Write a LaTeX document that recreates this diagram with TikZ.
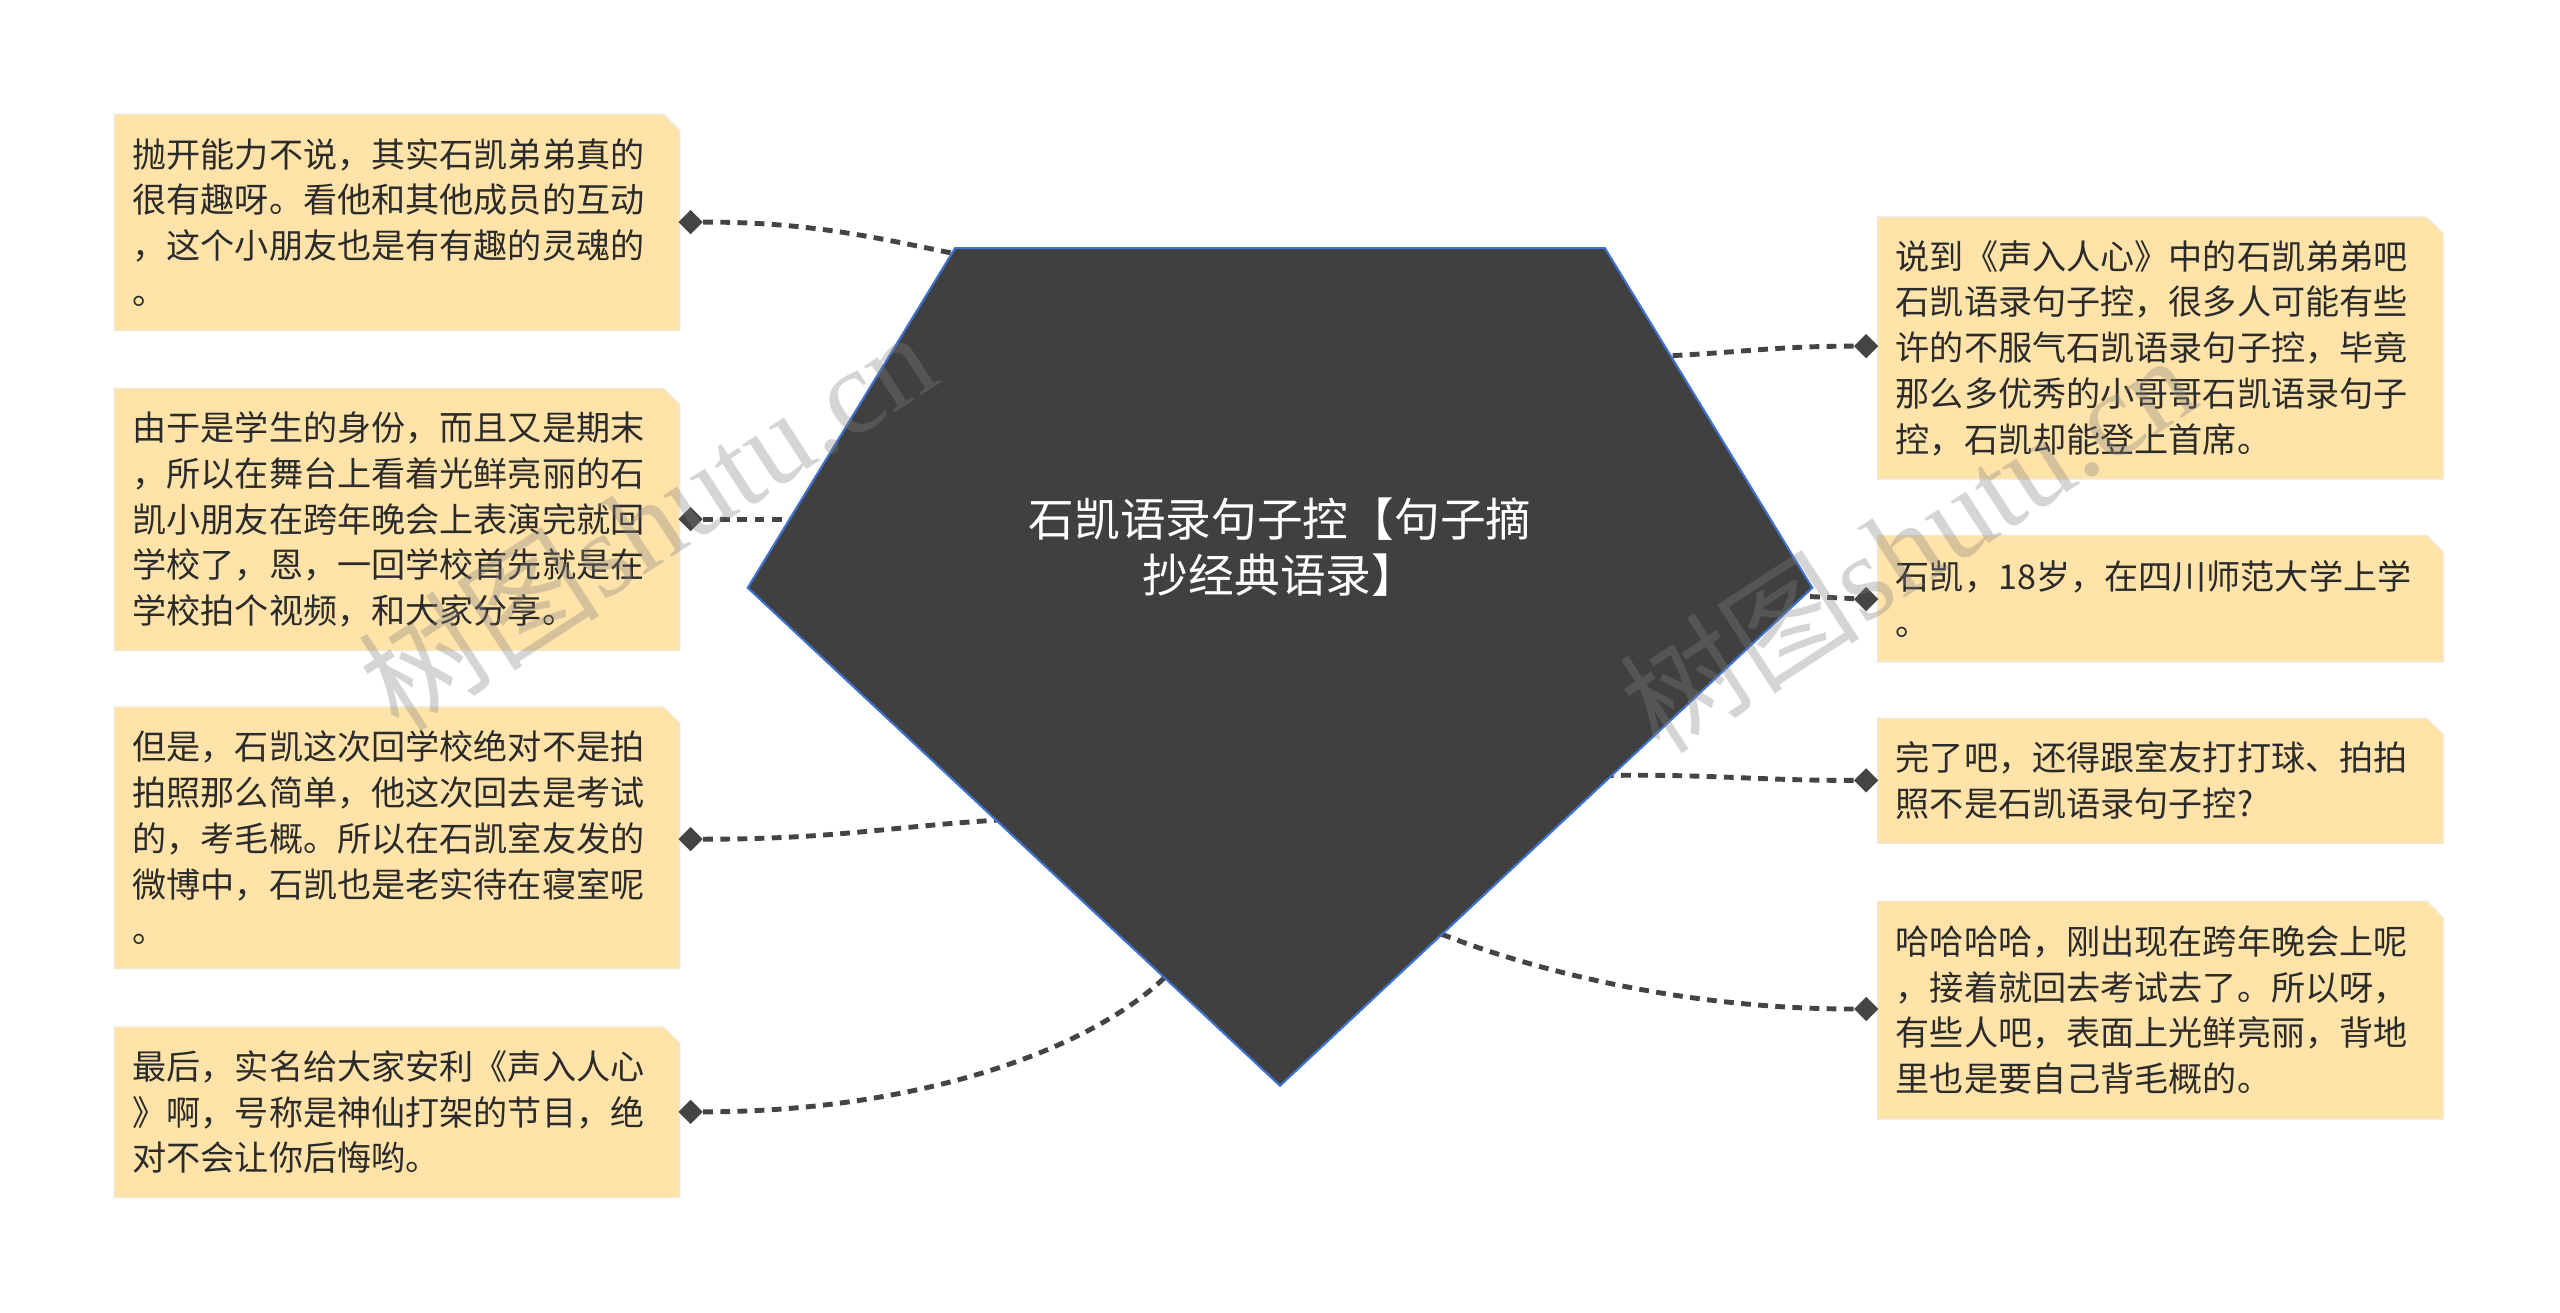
\documentclass[tikz,border=0pt]{standalone}
\usepackage{fontspec}
\setmainfont{Noto Sans CJK SC}
\newfontfamily\wmcjk{Noto Sans CJK SC}
\newfontfamily\wmlat{Liberation Serif}
\usetikzlibrary{shapes.geometric,backgrounds}
\definecolor{leaffill}{HTML}{FFE3A8}
\definecolor{leafedge}{HTML}{F1E9D8}
\definecolor{leaftext}{HTML}{2B2B2B}
\definecolor{conncol}{HTML}{444444}
\definecolor{centfill}{HTML}{404040}
\definecolor{centedge}{HTML}{3F72CF}
\tikzset{
  leaf/.style={anchor=north west, inner sep=0pt, text width=324pt, align=left,
    minimum width=346pt, text=leaftext, font=\fontsize{20.9pt}{28pt}\selectfont},
  dia/.style={diamond, fill=conncol, inner sep=0pt, minimum width=15pt, minimum height=15pt},
  connector/.style={draw=conncol, line width=3pt, dash pattern=on 6pt off 4.5pt},
  wm/.style={text=black!50, opacity=0.33, font=\fontsize{74pt}{78pt}\selectfont},
}
\begin{document}
\begin{tikzpicture}[x=1pt,y=-1pt]
\useasboundingbox (0,0) rectangle (1568,804);
% leaf boxes
\node[leaf, minimum height=132pt] (b1) at (70,70) {抛开能力不说，其实石凯弟弟真的\\很有趣呀。看他和其他成员的互动\\，这个小朋友也是有有趣的灵魂的\\。};
\node[leaf, minimum height=160pt] (b2) at (70,238) {由于是学生的身份，而且又是期末\\，所以在舞台上看着光鲜亮丽的石\\凯小朋友在跨年晚会上表演完就回\\学校了，恩，一回学校首先就是在\\学校拍个视频，和大家分享。};
\node[leaf, minimum height=160pt] (b3) at (70,433) {但是，石凯这次回学校绝对不是拍\\拍照那么简单，他这次回去是考试\\的，考毛概。所以在石凯室友发的\\微博中，石凯也是老实待在寝室呢\\。};
\node[leaf, minimum height=104pt] (b4) at (70,629) {最后，实名给大家安利《声入人心\\》啊，号称是神仙打架的节目，绝\\对不会让你后悔哟。};
\node[leaf, minimum height=160pt] (b5) at (1150,133) {说到《声入人心》中的石凯弟弟吧\\石凯语录句子控，很多人可能有些\\许的不服气石凯语录句子控，毕竟\\那么多优秀的小哥哥石凯语录句子\\控，石凯却能登上首席。};
\node[leaf, minimum height=77pt] (b6) at (1150,328) {石凯，18岁，在四川师范大学上学\\。};
\node[leaf, minimum height=76pt] (b7) at (1150,440) {完了吧，还得跟室友打打球、拍拍\\照不是石凯语录句子控?};
\node[leaf, minimum height=133pt] (b8) at (1150,552) {哈哈哈哈，刚出现在跨年晚会上呢\\，接着就回去考试去了。所以呀，\\有些人吧，表面上光鲜亮丽，背地\\里也是要自己背毛概的。};
% diamonds
\node[dia] (d1) at (423,136) {};
\node[dia] (d2) at (423,318) {};
\node[dia] (d3) at (423,514) {};
\node[dia] (d4) at (423,681) {};
\node[dia] (d5) at (1143,212) {};
\node[dia] (d6) at (1143,367) {};
\node[dia] (d7) at (1143,478) {};
\node[dia] (d8) at (1143,618) {};
% pentagon edge points
\coordinate (e1) at (588,156);
\coordinate (e2) at (492,318);
\coordinate (e3) at (616,502);
\coordinate (e4) at (718,594);
\coordinate (e5) at (1020,218);
\coordinate (e6) at (1100,365);
\coordinate (e7) at (980,475);
\coordinate (e8) at (880,571);
% connectors
\draw[connector] (d1) .. controls +(75,0) and +(-50,-10) .. (e1);
\draw[connector] (d2) -- (e2);
\draw[connector] (d3) .. controls +(90,0) and +(-70,4) .. (e3);
\draw[connector] (d4) .. controls +(140,0) and +(-45,48) .. (e4);
\draw[connector] (d5) .. controls +(-55,0) and +(45,-2) .. (e5);
\draw[connector] (d6) -- (e6);
\draw[connector] (d7) .. controls +(-70,0) and +(70,-1) .. (e7);
\draw[connector] (d8) .. controls +(-115,0) and +(55,22) .. (e8);
% central pentagon
\draw[fill=centfill, draw=centedge, line width=1.3pt, line join=miter]
  (585,152) -- (983,152) -- (1110,360) -- (784,665) -- (458,360) -- cycle;
\node[text=white, align=center, inner sep=0pt, font=\fontsize{28pt}{34pt}\selectfont] (c) at (784,335) {石凯语录句子控【句子摘\\抄经典语录】};
% watermarks
\node[wm, rotate=33] (w1) at (396,318) {\wmcjk 树图\wmlat shutu.cn};
\node[wm, rotate=33] (w2) at (1168,332) {\wmcjk 树图\wmlat shutu.cn};
% backgrounds
\begin{scope}[on background layer]
\fill[white] (0,0) rectangle (1568,804);
\foreach \b in {b1,b2,b3,b4,b5,b6,b7,b8}{
  \filldraw[fill=leaffill, draw=leafedge, line width=0.8pt]
    (\b.north west) -- ([xshift=-10pt]\b.north east) -- ([yshift=-10pt]\b.north east)
    -- (\b.south east) -- (\b.south west) -- cycle;
}
\end{scope}
\end{tikzpicture}
\end{document}
